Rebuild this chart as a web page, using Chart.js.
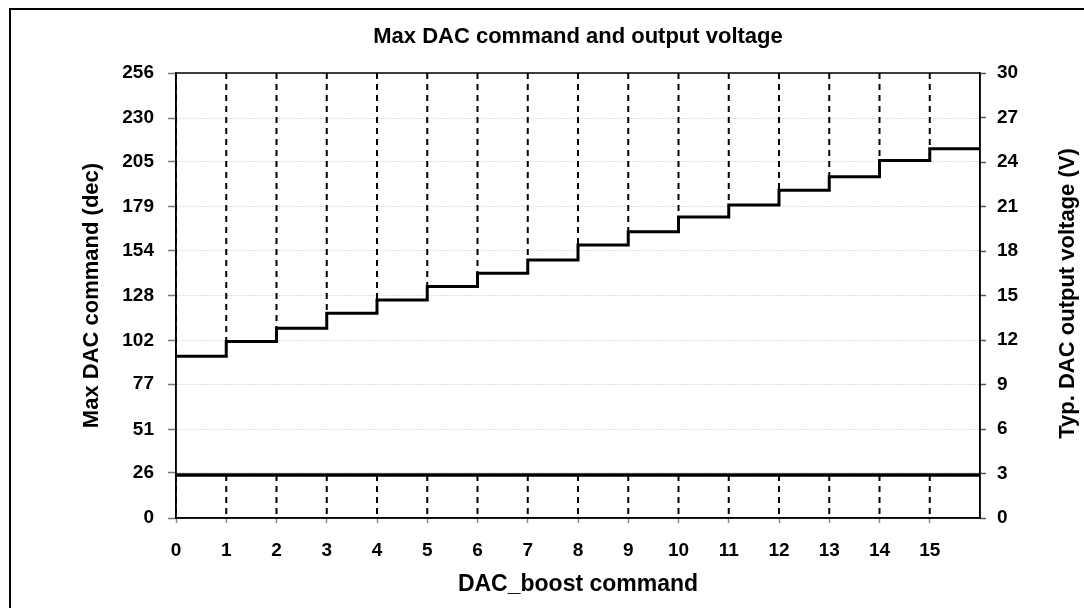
<!DOCTYPE html>
<html>
<head>
<meta charset="utf-8">
<script src="https://cdn.jsdelivr.net/npm/chart.js@4"></script>
<style>
  html, body { margin: 0; padding: 0; overflow: hidden; background: #fff; }
  #frame { position: absolute; left: 9px; top: 8px; width: 1200px; height: 700px; border: 2px solid #000; }
  #wrap { position: absolute; left: 0; top: 0; width: 1084px; height: 608px; }
</style>
</head>
<body>
<div id="frame"></div>
<div id="wrap"><canvas id="chartDac"></canvas></div>
<script>
// DAC_boost command (x categories) and tick labels
const boostCommands = [0, 1, 2, 3, 4, 5, 6, 7, 8, 9, 10, 11, 12, 13, 14, 15];
const dacTicks = [0, 26, 51, 77, 102, 128, 154, 179, 205, 230, 256];
const voltTicks = [0, 3, 6, 9, 12, 15, 18, 21, 24, 27, 30];

// typ. output voltage (V) for each DAC_boost command
const outputVoltage = [10.9, 11.9, 12.8, 13.8, 14.7, 15.6, 16.5, 17.4, 18.4, 19.3, 20.3, 21.1, 22.1, 23.0, 24.1, 24.9];
// low level line (V)
const lowVoltage = 2.9;

const xEnd = 16;
const font = "'Liberation Sans', Arial, sans-serif";

// step line: last level is held up to the end of the axis
const stepData = boostCommands.map((c, i) => ({ x: c, y: outputVoltage[i] }));
stepData.push({ x: xEnd, y: outputVoltage[outputVoltage.length - 1] });

// dashed verticals: from the top down to the step, and from the low line down to 0
const dashTop = [];
stepData.forEach((p) => {
  dashTop.push({ x: p.x, y: 30 }, { x: p.x, y: p.y }, { x: p.x, y: null });
});
const dashBottom = [];
boostCommands.forEach((c) => {
  dashBottom.push({ x: c, y: lowVoltage }, { x: c, y: 0 }, { x: c, y: null });
});

const framePlugin = {
  id: "frame",
  afterDatasetsDraw(chart) {
    const { ctx, chartArea } = chart;
    const midX = (chartArea.left + chartArea.right) / 2;
    const midY = (chartArea.top + chartArea.bottom) / 2;
    ctx.save();
    ctx.strokeStyle = "#000";
    ctx.lineWidth = 1.5;
    ctx.strokeRect(chartArea.left, chartArea.top, chartArea.right - chartArea.left, chartArea.bottom - chartArea.top);
    ctx.fillStyle = "#000";
    ctx.textAlign = "center";
    ctx.textBaseline = "middle";
    // chart title, centred over the plot area
    ctx.font = "bold 22px " + font;
    ctx.fillText("Max DAC command and output voltage", midX, 37);
    // right axis title, read bottom to top
    ctx.translate(1068, midY - 2);
    ctx.rotate(-Math.PI / 2);
    ctx.fillText("Typ. DAC output voltage (V)", 0, 0);
    ctx.restore();
  },
};

const lineStyle = { pointRadius: 0, borderColor: "#000", fill: false, spanGaps: false, yAxisID: "y1" };

const chartDac = new Chart(document.getElementById("chartDac"), {
  type: "line",
  data: {
    datasets: [
      { ...lineStyle, data: dashTop, borderWidth: 2, borderDash: [6, 5] },
      { ...lineStyle, data: dashBottom, borderWidth: 2, borderDash: [6, 5] },
      { ...lineStyle, data: [{ x: 0, y: lowVoltage }, { x: xEnd, y: lowVoltage }], borderWidth: 3.5 },
      { ...lineStyle, data: stepData, borderWidth: 3, stepped: true },
    ],
  },
  options: {
    responsive: true,
    maintainAspectRatio: false,
    animation: false,
    layout: { padding: { top: 73 } },
    plugins: {
      legend: { display: false },
      tooltip: { enabled: false },
    },
    scales: {
      x: {
        type: "linear",
        min: 0,
        max: xEnd,
        afterBuildTicks: (scale) => {
          scale.ticks = boostCommands.map((v) => ({ value: v }));
        },
        afterFit: (scale) => {
          scale.height = 90;
        },
        grid: { drawOnChartArea: false, tickLength: 5, tickColor: "#888", tickWidth: 1.5 },
        border: { color: "#000", width: 1.5 },
        ticks: { color: "#000", padding: 16, maxRotation: 0, font: { family: font, size: 19, weight: "bold" } },
        title: {
          display: true,
          text: "DAC_boost command",
          color: "#000",
          font: { family: font, size: 23, weight: "bold" },
          padding: { top: 0, bottom: 10 },
        },
      },
      y: {
        position: "left",
        min: 0,
        max: 256,
        afterBuildTicks: (scale) => {
          scale.ticks = dacTicks.map((v) => ({ value: v }));
        },
        afterFit: (scale) => {
          scale.width = 176;
        },
        grid: { color: "#c4c4c4", lineWidth: 1, tickLength: 8, tickColor: "#777", tickWidth: 1.5, tickBorderDash: [] },
        border: { color: "#000", width: 1.5, dash: [1, 2] },
        ticks: { color: "#000", padding: 14, font: { family: font, size: 19, weight: "bold" } },
        title: {
          display: true,
          text: "Max DAC command (dec)",
          color: "#000",
          font: { family: font, size: 22, weight: "bold" },
          padding: { top: 79, bottom: 0 },
        },
      },
      y1: {
        position: "right",
        min: 0,
        max: 30,
        afterBuildTicks: (scale) => {
          scale.ticks = voltTicks.map((v) => ({ value: v }));
        },
        afterFit: (scale) => {
          scale.width = 104;
        },
        grid: { drawOnChartArea: false, tickLength: 6, tickColor: "#555", tickWidth: 1.5 },
        border: { color: "#000", width: 1.5 },
        ticks: { color: "#000", padding: 11, font: { family: font, size: 19, weight: "bold" } },
      },
    },
  },
  plugins: [framePlugin],
});
</script>
</body>
</html>
